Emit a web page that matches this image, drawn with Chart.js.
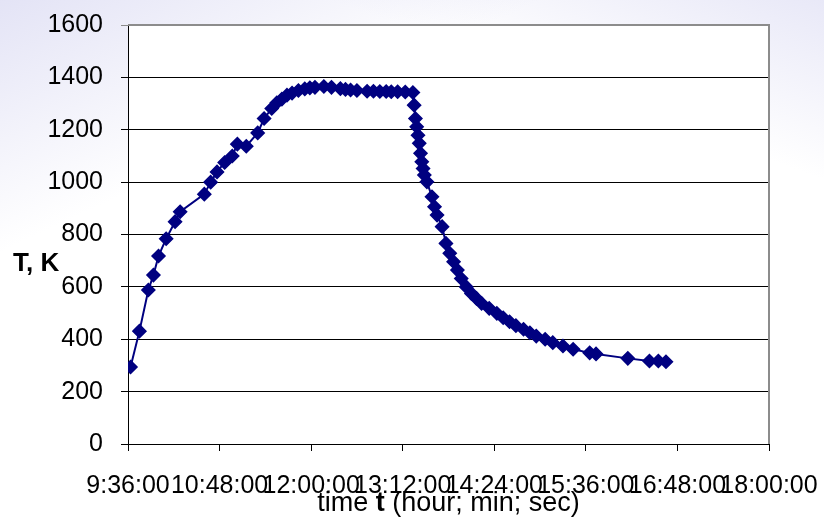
<!DOCTYPE html>
<html>
<head>
<meta charset="utf-8">
<script src="https://cdn.jsdelivr.net/npm/chart.js@4.4.1/dist/chart.umd.min.js"></script>
<style>
  html, body { margin: 0; padding: 0; }
  body {
    width: 824px; height: 518px; overflow: hidden;
    background:
      linear-gradient(155deg, rgba(205,205,238,0.55) 0%, rgba(255,255,255,0) 28%),
      linear-gradient(200deg, rgba(210,210,240,0.5) 0%, rgba(255,255,255,0) 22%),
      #fff;
  }
  #wrap { position: relative; width: 824px; height: 518px; }
</style>
</head>
<body>
<div id="wrap"><canvas id="tempChart" width="824" height="518"></canvas></div>
<script>
// time of reading (h:mm) and temperature T (K)
const times = [
  '9:38', '9:45', '9:52', '9:56', '10:00', '10:06', '10:13', '10:17', '10:36', '10:41',
  '10:46', '10:52', '10:58', '11:02', '11:09', '11:18', '11:23', '11:29', '11:33', '11:37',
  '11:41', '11:45', '11:50', '11:55', '11:59', '12:03', '12:10', '12:16', '12:23', '12:27',
  '12:31', '12:36', '12:44', '12:49', '12:54', '12:59', '13:03', '13:08', '13:14', '13:20',
  '13:21', '13:22', '13:23', '13:24', '13:25', '13:26', '13:27', '13:28', '13:29', '13:31',
  '13:35', '13:37', '13:39', '13:43', '13:46', '13:49', '13:52', '13:55', '13:58', '14:02',
  '14:06', '14:10', '14:14', '14:20', '14:26', '14:31', '14:36', '14:41', '14:47', '14:52',
  '14:57', '15:04', '15:10', '15:18', '15:26', '15:39', '15:44', '16:09', '16:26', '16:33',
  '16:39'
];
const temps = [
  294, 431, 588, 645, 718, 784, 849, 887, 954, 1000,
  1039, 1075, 1100, 1145, 1137, 1188, 1243, 1281, 1303, 1317,
  1332, 1340, 1350, 1356, 1360, 1362, 1365, 1362, 1357, 1354,
  1352, 1350, 1347, 1347, 1346, 1346, 1345, 1345, 1344, 1342,
  1294, 1243, 1211, 1179, 1148, 1110, 1078, 1052, 1027, 1001,
  944, 906, 874, 830, 766, 728, 696, 664, 632, 600,
  575, 556, 537, 518, 499, 482, 467, 452, 438, 425,
  412, 400, 387, 374, 362, 348, 344, 327, 317, 317,
  314
];
const yTicks = [0, 200, 400, 600, 800, 1000, 1200, 1400, 1600];
const xStart = '9:36', xEnd = '18:00', xStepMin = 72;

const toMin = s => { const [h, m] = s.split(':').map(Number); return h * 60 + m; };
const fmt = v => Math.floor(v / 60) + ':' + String(Math.round(v % 60)).padStart(2, '0') + ':00';
const points = times.map((t, i) => ({ x: toMin(t), y: temps[i] }));

const FONT = 'Liberation Sans, Arial, sans-serif';

const decor = {
  id: 'decor',
  beforeDraw(chart) {
    const { ctx, chartArea: a } = chart;
    ctx.save();
    ctx.fillStyle = '#fff';
    ctx.fillRect(a.left, a.top, a.right - a.left, a.bottom - a.top);
    ctx.restore();
  },
  afterDraw(chart) {
    const { ctx, chartArea: a } = chart;
    ctx.save();
    // grey frame on top and right
    ctx.strokeStyle = '#8c8c8c';
    ctx.lineWidth = 2;
    ctx.beginPath();
    ctx.moveTo(a.left, a.top);
    ctx.lineTo(a.right, a.top);
    ctx.lineTo(a.right, a.bottom);
    ctx.stroke();
    // y title, horizontal
    ctx.fillStyle = '#000';
    ctx.font = 'bold 26px ' + FONT;
    ctx.textBaseline = 'alphabetic';
    ctx.textAlign = 'left';
    ctx.fillText('T, K', 13, 271);
    // x title with bold t
    const parts = [['time ', '27px'], ['t', 'bold 27px'], [' (hour; min; sec)', '27px']];
    let w = 0;
    parts.forEach(p => { ctx.font = p[1] + ' ' + FONT; w += ctx.measureText(p[0]).width; });
    let x = (a.left + a.right) / 2 - w / 2;
    parts.forEach(p => {
      ctx.font = p[1] + ' ' + FONT;
      ctx.fillText(p[0], x, 511);
      x += ctx.measureText(p[0]).width;
    });
    ctx.restore();
  }
};

new Chart(document.getElementById('tempChart'), {
  type: 'line',
  data: {
    datasets: [{
      data: points,
      borderColor: '#000080',
      backgroundColor: '#000080',
      borderWidth: 2,
      pointStyle: 'rectRot',
      pointRadius: 6.5,
      pointBorderWidth: 1.5,
      tension: 0
    }]
  },
  options: {
    responsive: false,
    devicePixelRatio: 1,
    animation: false,
    layout: { padding: { top: 25, right: 55, left: 0, bottom: 0 } },
    plugins: { legend: { display: false }, tooltip: { enabled: false } },
    scales: {
      x: {
        type: 'linear',
        min: toMin(xStart),
        max: toMin(xEnd),
        afterFit: s => { s.height = 74; s.paddingLeft = 0; s.paddingRight = 0; },
        afterBuildTicks: s => {
          const t = [];
          for (let v = toMin(xStart); v <= toMin(xEnd); v += xStepMin) t.push({ value: v });
          s.ticks = t;
        },
        border: { color: '#000', width: 1 },
        grid: { drawOnChartArea: false, drawTicks: true, tickLength: 7, color: '#000' },
        ticks: {
          autoSkip: false, maxRotation: 0, padding: 20,
          color: '#000', font: { family: FONT, size: 25 },
          callback: v => fmt(v)
        }
      },
      y: {
        min: 0,
        max: 1600,
        afterFit: s => { s.width = 128; s.paddingTop = 0; s.paddingBottom = 0; },
        afterBuildTicks: s => { s.ticks = yTicks.map(v => ({ value: v })); },
        border: { color: '#000', width: 1 },
        grid: {
          tickLength: 7,
          color: c => (c.tick && c.tick.value === 1600) ? '#8c8c8c' : '#000',
          lineWidth: 1
        },
        ticks: {
          padding: 18, color: '#000',
          font: { family: FONT, size: 25 },
          callback: v => String(v)
        }
      }
    }
  },
  plugins: [decor]
});
</script>
</body>
</html>
